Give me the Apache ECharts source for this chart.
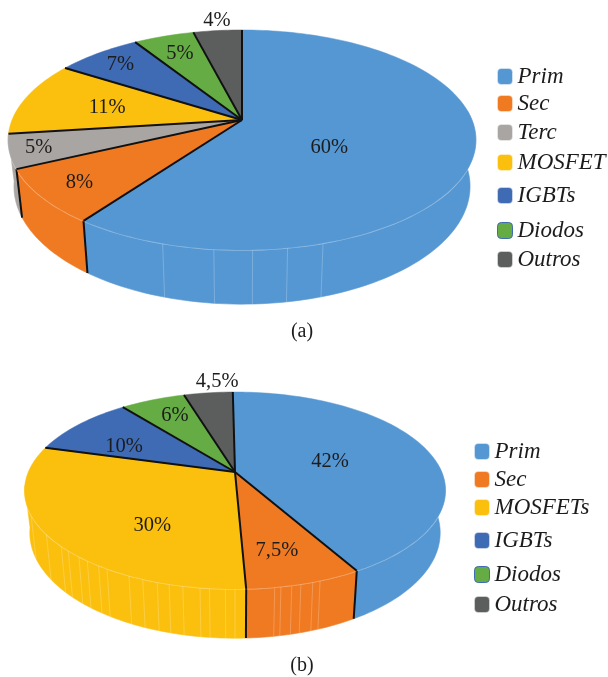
<!DOCTYPE html>
<html>
<head>
<meta charset="utf-8">
<style>html,body{margin:0;padding:0;background:#fff}#chart{width:608px;height:677px}</style>
<script src="https://cdn.jsdelivr.net/npm/echarts@6/dist/echarts.min.js"></script>
</head>
<body>
<div id="chart"></div>
<script>
// Loss shares for the two converter designs, in percent
const categoriesA = ['Prim', 'Sec', 'Terc', 'MOSFET', 'IGBTs', 'Diodos', 'Outros'];
const valuesA = [60, 8, 5, 11, 7, 5, 4];
const categoriesB = ['Prim', 'Sec', 'MOSFETs', 'IGBTs', 'Diodos', 'Outros'];
const valuesB = [42, 7.5, 30, 10, 6, 4.5];

const colorOf = {
  Prim: '#5597d3', Sec: '#ef7a22', Terc: '#a9a5a2', MOSFET: '#fbbf0e', MOSFETs: '#fbbf0e',
  IGBTs: '#3f6ab4', Diodos: '#65ac45', Outros: '#5c5e5d'
};

// Panel joints on the side wall, as a position along the pie in percent
const seamsA = [54.6, 51.6, 49.4, 47.4, 45.3];
const seamsB = [68.4, 65.3, 63.3, 62.5, 61.4, 60.6, 59.6, 58.9, 57.2, 56.2, 55.2, 54.4, 53.5,
  52.4, 51.8, 50.8, 50.2, 47.7, 47.3, 46.6, 46, 45.2, 44.7];

// Value label anchors: distance from the apex (1 = rim) and bearing in degrees
const labelRadiusA = [0.44, 0.83, 0.88, 0.61, 0.824, 0.762, 1.127];
const labelBearingA = [124.5, 230.3, 253.5, 280.9, 314.8, 336.5, 353.3];
const labelRadiusB = [0.481, 0.741, 0.626, 0.629, 0.739, 1.157];
const labelBearingB = [77.1, 166.3, 215.3, 296.1, 333.8, 354.8];

// Legend rows: vertical centre of each swatch
const legendRowsA = [73, 100, 129, 159, 192, 227, 256];
const legendRowsB = [448, 476, 504, 537, 571, 601];

// Perspective disc: apex position, horizontal and vertical scale, tilt, and base ring
const pieA = { cx: 242, cy: 120, kx: 230, ky: 106.4, tilt: 0.1818, baseDrop: 45, baseX: 0.975, baseY: 1.07, start: 0 };
const pieB = { cx: 235, cy: 472, kx: 206.7, ky: 95, tilt: 0.188, baseDrop: 41, baseX: 0.975, baseY: 1.07, start: -0.2 };

const SERIF = '"Liberation Serif", serif';
const WALL_FROM = 85, WALL_TO = 262, EDGE_FROM = 90, EDGE_TO = 250;

function topPoint(pie, deg, r) {
  const a = deg * Math.PI / 180;
  const u = r * Math.sin(a), v = -r * Math.cos(a), w = 1 - pie.tilt * v;
  return [pie.cx + pie.kx * u / w, pie.cy + pie.ky * v / w];
}
function basePoint(pie, deg) {
  const p = topPoint(pie, deg, 1);
  return [pie.cx + (p[0] - pie.cx) * pie.baseX, pie.cy + pie.baseDrop + (p[1] - pie.cy) * pie.baseY];
}
function arc(fn, from, to) {
  const pts = [], n = Math.max(2, Math.ceil(Math.abs(to - from) / 1.5));
  for (let i = 0; i <= n; i++) pts.push(fn(from + (to - from) * i / n));
  return pts;
}

function sliceSeries(pie, names, values, radii, bearings) {
  let running = pie.start;
  return names.map((name, i) => {
    const from = running * 3.6;
    running += values[i];
    const to = running * 3.6;
    const color = colorOf[name];
    return {
      type: 'custom',
      name,
      coordinateSystem: 'none',
      silent: true,
      itemStyle: { color },
      data: [{ value: values[i], name }],
      renderItem(params, api) {
        const text = String(api.value(0)).replace('.', ',') + '%';
        const top = d => topPoint(pie, d, 1);
        const base = d => basePoint(pie, d);
        const children = [];
        // side wall and the pale line where it meets the upper face; only the near side shows
        const a = Math.max(from, WALL_FROM), b = Math.min(to, WALL_TO);
        if (b > a) {
          children.push({
            type: 'polygon', z2: 1,
            shape: { points: arc(top, a, b).concat(arc(base, b, a)) },
            style: { fill: color, stroke: color, lineWidth: 0.6 }
          });
          children.push({
            type: 'polyline', z2: 2,
            shape: { points: arc(top, a, b) },
            style: { fill: 'none', stroke: 'rgba(255,255,255,0.45)', lineWidth: 1.6 }
          });
        }
        // dark wall edge at the start of the slice
        const startDeg = ((from % 360) + 360) % 360;
        if (startDeg > EDGE_FROM && startDeg < EDGE_TO) {
          children.push({
            type: 'line', z2: 3,
            shape: { x1: top(from)[0], y1: top(from)[1], x2: base(from)[0], y2: base(from)[1] },
            style: { stroke: '#111', lineWidth: 2 }
          });
        }
        // upper face
        children.push({
          type: 'polygon', z2: 4,
          shape: { points: [[pie.cx, pie.cy]].concat(arc(top, from, to)) },
          style: { fill: color, stroke: color, lineWidth: 0.5 }
        });
        // radial divider
        children.push({
          type: 'line', z2: 6,
          shape: { x1: pie.cx, y1: pie.cy, x2: top(from)[0], y2: top(from)[1] },
          style: { stroke: '#111', lineWidth: 2 }
        });
        // value label
        const at = topPoint(pie, bearings[i], radii[i]);
        children.push({
          type: 'text', z2: 7,
          style: { x: at[0], y: at[1], text, font: '20.5px ' + SERIF, fill: '#1c1c1c', align: 'center', verticalAlign: 'middle' }
        });
        return { type: 'group', children };
      }
    };
  });
}

function seamSeries(pie, seams) {
  return {
    type: 'custom',
    name: 'Juntas',
    coordinateSystem: 'none',
    silent: true,
    data: seams,
    renderItem(params, api) {
      const deg = (api.value(0) + pie.start) * 3.6;
      const p = topPoint(pie, deg, 1), q = basePoint(pie, deg);
      return {
        type: 'line', z2: 2,
        shape: { x1: p[0], y1: p[1], x2: q[0], y2: q[1] },
        style: { stroke: 'rgba(255,255,255,0.22)', lineWidth: 1 }
      };
    }
  };
}

function legendRows(names, rows, swatchLeft) {
  return names.map((name, i) => ({
    left: swatchLeft,
    top: rows[i] - 8,
    padding: 0,
    selectedMode: false,
    icon: 'roundRect',
    itemWidth: 15,
    itemHeight: 16,
    textStyle: { fontFamily: SERIF, fontStyle: 'italic', fontSize: 23, color: '#1c1c1c', padding: [3, 0, 0, 0] },
    data: [{ name, itemStyle: { color: colorOf[name], borderColor: name === 'Diodos' ? '#3f6ab4' : 'rgba(255,255,255,0.4)', borderWidth: 1 } }]
  }));
}

const chart = echarts.init(document.getElementById('chart'), null, { renderer: 'canvas' });
chart.setOption({
  animation: false,
  backgroundColor: '#fff',
  title: [
    { text: '(a)', left: 302, top: 322, textAlign: 'center', padding: 0, textStyle: { fontFamily: SERIF, fontWeight: 'normal', fontSize: 20, color: '#1c1c1c' } },
    { text: '(b)', left: 302, top: 656, textAlign: 'center', padding: 0, textStyle: { fontFamily: SERIF, fontWeight: 'normal', fontSize: 20, color: '#1c1c1c' } }
  ],
  legend: legendRows(categoriesA, legendRowsA, 497).concat(legendRows(categoriesB, legendRowsB, 474)),
  series: [
    ...sliceSeries(pieA, categoriesA, valuesA, labelRadiusA, labelBearingA),
    seamSeries(pieA, seamsA),
    ...sliceSeries(pieB, categoriesB, valuesB, labelRadiusB, labelBearingB),
    seamSeries(pieB, seamsB)
  ]
});
</script>
</body>
</html>
